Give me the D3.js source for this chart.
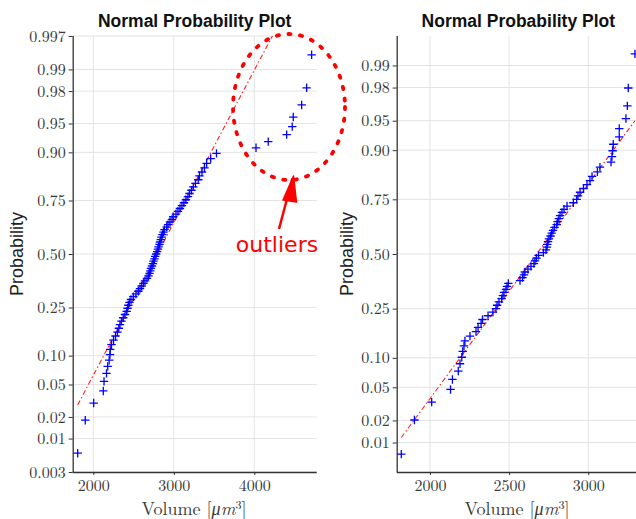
<!DOCTYPE html>
<html><head><meta charset="utf-8">
<script src="https://cdn.jsdelivr.net/npm/d3@7"></script>
<style>
body{margin:0;background:#fff;}
svg{display:block;}
</style></head>
<body>
<svg id="c" width="636" height="519"></svg>
<script>
// ---- data ----
const leftVolumes = [1806,1900,2005,2124,2133,2164,2179,2197,2207,2210,2226,2251,2276,2300,2317,2331,2350,2372,2394,2415,
  2425,2435,2449,2468,2497,2530,2559,2580,2601,2623,2642,2667,2685,2698,2708,2716,2729,2741,2748,2760,
  2768,2780,2793,2803,2810,2822,2828,2838,2847,2859,2872,2884,2911,2928,2952,2977,2993,3027,3052,3076,
  3101,3126,3151,3176,3195,3219,3242,3269,3304,3319,3350,3381,3408,3458,3530,4021,4173,4402,4471,4484,
  4588,4650,4712];
const rightVolumes = [1819,1902,2011,2130,2142,2179,2190,2201,2207,2215,2221,2253,2291,2304,2323,2332,2367,2398,2417,2424,
  2436,2453,2461,2468,2480,2487,2495,2569,2585,2594,2600,2619,2638,2657,2664,2673,2686,2717,2733,2739,
  2741,2746,2752,2762,2769,2777,2787,2801,2806,2814,2822,2834,2847,2866,2906,2927,2935,2948,2970,2992,
  3011,3024,3058,3074,3144,3150,3154,3158,3196,3196,3238,3247,3253,3295];
const leftFit = {mu: 2795, sigma: 520};
const rightFit = {mu: 2674, sigma: 377.6};
const leftProbTicks = [0.003,0.01,0.02,0.05,0.10,0.25,0.50,0.75,0.90,0.95,0.98,0.99,0.997];
const leftProbLabels = ["0.003","0.01","0.02","0.05","0.10","0.25","0.50","0.75","0.90","0.95","0.98","0.99","0.997"];
const rightProbTicks = [0.01,0.02,0.05,0.10,0.25,0.50,0.75,0.90,0.95,0.98,0.99];
const rightProbLabels = ["0.01","0.02","0.05","0.10","0.25","0.50","0.75","0.90","0.95","0.98","0.99"];
const leftXTicks = [2000,3000,4000];
const rightXTicks = [2000,2500,3000];
const leftXDomain = [1744, 4775];
const rightXDomain = [1790, 3327];
const leftZDomain = [-2.748, 2.748];
const rightZDomain = [-2.69, 2.69];
const titleText = "Normal Probability Plot";
const yLabelText = "Probability";
const annotationText = "outliers";

// inverse normal CDF (Acklam)
function probit(p){
  const a=[-3.969683028665376e+01,2.209460984245205e+02,-2.759285104469687e+02,1.383577518672690e+02,-3.066479806614716e+01,2.506628277459239e+00];
  const b=[-5.447609879822406e+01,1.615858368580409e+02,-1.556989798598866e+02,6.680131188771972e+01,-1.328068155288572e+01];
  const c=[-7.784894002430293e-03,-3.223964580411365e-01,-2.400758277161838e+00,-2.549732539343734e+00,4.374664141464968e+00,2.938163982698783e+00];
  const d=[7.784695709041462e-03,3.224671290700398e-01,2.445134137142996e+00,3.754408661907416e+00];
  const pl=0.02425, ph=1-pl; let q,r;
  if(p<pl){q=Math.sqrt(-2*Math.log(p));return (((((c[0]*q+c[1])*q+c[2])*q+c[3])*q+c[4])*q+c[5])/((((d[0]*q+d[1])*q+d[2])*q+d[3])*q+1);}
  if(p<=ph){q=p-0.5;r=q*q;return (((((a[0]*r+a[1])*r+a[2])*r+a[3])*r+a[4])*r+a[5])*q/(((((b[0]*r+b[1])*r+b[2])*r+b[3])*r+b[4])*r+1);}
  q=Math.sqrt(-2*Math.log(1-p));return -(((((c[0]*q+c[1])*q+c[2])*q+c[3])*q+c[4])*q+c[5])/((((d[0]*q+d[1])*q+d[2])*q+d[3])*q+1);
}

const svg = d3.select("#c");
const tickFont = "'Latin Modern Roman','CMU Serif','Liberation Serif','DejaVu Serif',serif";
const sansFont = "'Liberation Sans',Arial,Helvetica,sans-serif";

function panel(cfg){
  const {x0,x1,y0,y1,data,fit,ticks,labels,xticks,xdom,zdom,xlabelX,ylabelX} = cfg;
  const x = d3.scaleLinear().domain(xdom).range([x0,x1]);
  const y = d3.scaleLinear().domain(zdom).range([y1,y0]);
  const g = svg.append("g");
  // grid
  g.selectAll(".gy").data(ticks).enter().append("line")
    .attr("x1",x0).attr("x2",x1).attr("y1",d=>y(probit(d))).attr("y2",d=>y(probit(d)))
    .attr("stroke","#e3e3e3").attr("stroke-width",1);
  g.selectAll(".gx").data(xticks).enter().append("line")
    .attr("x1",d=>x(d)).attr("x2",d=>x(d)).attr("y1",y0).attr("y2",y1)
    .attr("stroke","#e3e3e3").attr("stroke-width",1);
  // axes
  const yAxis = d3.axisLeft(y).tickValues(ticks.map(probit)).tickFormat((d,i)=>labels[i]).tickSize(4).tickPadding(3);
  const ya = g.append("g").attr("transform",`translate(${x0},0)`).call(yAxis);
  const xAxis = d3.axisBottom(x).tickValues(xticks).tickFormat(d3.format("d")).tickSize(3).tickPadding(5);
  const xa = g.append("g").attr("transform",`translate(0,${y1})`).call(xAxis);
  [ya,xa].forEach(a=>{
    a.select(".domain").attr("stroke","#333").attr("stroke-width",1.3);
    a.selectAll(".tick line").attr("stroke","#333");
    a.selectAll(".tick text").attr("fill","#3a3a3a").style("font-family",tickFont).style("font-size","16px");
  });
  ya.select(".domain").attr("d",`M0.5,${y0}V${y1}`);
  xa.select(".domain").attr("d",`M${x0},0.5H${x1}`);
  // fit line
  const xmin = d3.min(data), xmax = d3.max(data);
  const zc = v => (v-fit.mu)/fit.sigma;
  const clipId = "clip"+Math.round(x0);
  svg.append("clipPath").attr("id",clipId).append("rect").attr("x",x0).attr("y",y0).attr("width",x1-x0).attr("height",y1-y0);
  g.append("line").attr("clip-path",`url(#${clipId})`)
    .attr("x1",x(xmin)).attr("y1",y(zc(xmin))).attr("x2",x(xmax)).attr("y2",y(zc(xmax)))
    .attr("stroke","#ff2020").attr("stroke-width",1.1).attr("stroke-dasharray","5,2.5,1.5,2.5");
  // points
  const n = data.length;
  g.selectAll(".pt").data(data).enter().append("path")
    .attr("d",(d,i)=>{const px=x(d), py=y(probit((i+0.5)/n));return `M${px-4.2},${py}H${px+4.2}M${px},${py-4.2}V${py+4.2}`;})
    .attr("stroke","#0000ff").attr("stroke-width",1.3).attr("fill","none");
  // title
  svg.append("text").attr("x",(x0+x1)/2).attr("y",27).attr("text-anchor","middle")
    .style("font-family",sansFont).style("font-weight","bold").style("font-size","17.5px").attr("fill","#111").text(titleText);
  // x label
  const xl = svg.append("text").attr("x",xlabelX).attr("y",515).attr("text-anchor","middle")
    .style("font-family",tickFont).style("font-size","18px").attr("fill","#3a3a3a");
  xl.append("tspan").text("Volume [");
  xl.append("tspan").style("font-style","italic").text("μm");
  xl.append("tspan").attr("dy",-6).style("font-size","12px").text("3");
  xl.append("tspan").attr("dy",6).text("]");
  // y label
  svg.append("text").attr("transform",`translate(${ylabelX},${y(0)}) rotate(-90)`).attr("text-anchor","middle")
    .style("font-family",sansFont).style("font-size","18px").attr("fill","#222").text(yLabelText);
}

panel({x0:72.7,x1:316.7,y0:36,y1:472,data:leftVolumes,fit:leftFit,ticks:leftProbTicks,labels:leftProbLabels,
  xticks:leftXTicks,xdom:leftXDomain,zdom:leftZDomain,xlabelX:194,ylabelX:23});
panel({x0:396.7,x1:640,y0:36,y1:472,data:rightVolumes,fit:rightFit,ticks:rightProbTicks,labels:rightProbLabels,
  xticks:rightXTicks,xdom:rightXDomain,zdom:rightZDomain,xlabelX:517,ylabelX:353});

// annotation
const ann = svg.append("g");
ann.append("ellipse").attr("cx",289).attr("cy",107).attr("rx",56).attr("ry",73)
  .attr("fill","none").attr("stroke","#ff0000").attr("stroke-width",3.8)
  .attr("stroke-dasharray","2.2,9.5").attr("stroke-linecap","round");
ann.append("line").attr("x1",279).attr("y1",229).attr("x2",292.5).attr("y2",178)
  .attr("stroke","#ff0000").attr("stroke-width",2.5);
ann.append("path").attr("d","M283,200 L293.5,176 L296.5,202 Z")
  .attr("fill","#ff0000").attr("stroke","#ff0000").attr("stroke-width",1.5).attr("stroke-linejoin","round");
ann.append("text").attr("x",277).attr("y",251.5).attr("text-anchor","middle")
  .style("font-family","'DejaVu Sans',sans-serif").style("font-size","22px").attr("fill","#ff0000").text(annotationText);
</script>
</body></html>
